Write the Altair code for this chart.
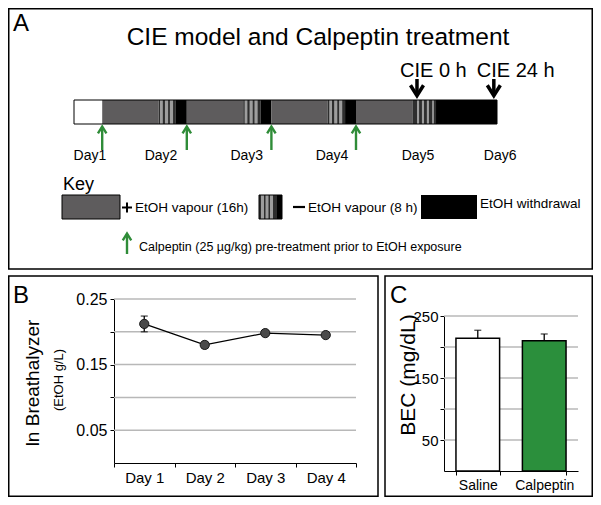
import altair as alt
import pandas as pd

# ---------------- data ----------------
# Panel A timeline (hours from start of Day 1)
seg_start = [0, 8, 24, 28.9, 32, 48, 52.9, 56, 72, 76.9, 80, 96, 102.7]
seg_end = [8, 24, 28.9, 32, 48, 52.9, 56, 72, 76.9, 80, 96, 102.7, 120]
seg_phase = ["pre", "on", "off", "dark", "on", "off", "dark", "on", "off", "dark", "on", "off", "dark"]
stripe_start = [24.4, 25.8, 27.2, 48.4, 49.8, 51.2, 72.4, 73.8, 75.2, 97.3, 98.7, 100.1, 101.6]
stripe_end = [25.2, 26.7, 28.1, 49.2, 50.7, 52.1, 73.2, 74.7, 76.1, 97.9, 99.3, 100.7, 102.1]
calp_hours = [8, 32, 56, 80]
cie_hours = [97.3, 119.1]
cie_labels = ["CIE 0 h", "CIE 24 h"]
day_hours = [4.5, 24.7, 49, 73.2, 97.6, 120.9]
day_labels = ["Day1", "Day2", "Day3", "Day4", "Day5", "Day6"]

# Panel B
breath_days = ["Day 1", "Day 2", "Day 3", "Day 4"]
breath_mean = [0.212, 0.180, 0.198, 0.195]
breath_err = [0.012, 0.005, 0.004, 0.002]
b_grid = [0.05, 0.10, 0.15, 0.20, 0.25]

# Panel C
bec_groups = ["Saline", "Calpeptin"]
bec_mean = [214, 210]
bec_err = [13, 11]
c_grid = [50, 100, 150, 200, 250]

# ---------------- layout helpers ----------------
FONT = "Liberation Sans"
GREEN = "#2f8c38"
GRAY = "#5e5c5d"
DARK = "#2e2e2e"
LIGHT = "#9d9d9d"
W, H = 585, 489


def V(p):
    return p - 8


one = pd.DataFrame({"k": [0]})


def label(text, x, y, size, align="left", angle=0, baseline="alphabetic"):
    return alt.Chart(one).mark_text(
        text=text, align=align, baseline=baseline, angle=angle,
        fontSize=size, font=FONT, color="black"
    ).encode(x=alt.value(V(x)), y=alt.value(V(y)))


def rect(x0, y0, x1, y1, fill, stroke="black", sw=0.0, fo=1.0):
    return alt.Chart(one).mark_rect(
        fill=fill, fillOpacity=fo, stroke=stroke, strokeWidth=sw
    ).encode(x=alt.value(V(x0)), x2=alt.value(V(x1)), y=alt.value(V(y0)), y2=alt.value(V(y1)))


def hline(x0, x1, y, color="black", sw=2.0):
    return alt.Chart(one).mark_rule(color=color, strokeWidth=sw).encode(
        x=alt.value(V(x0)), x2=alt.value(V(x1)), y=alt.value(V(y)))


def vline(x, y0, y1, color="black", sw=2.0):
    return alt.Chart(one).mark_rule(color=color, strokeWidth=sw).encode(
        x=alt.value(V(x)), y=alt.value(V(y0)), y2=alt.value(V(y1)))


UP = "M-1,0.8L0,-0.8L1,0.8"
DOWN = "M-1,-0.8L0,0.8L1,-0.8"

# ---------------- Panel A: timeline ----------------
tscale = alt.Scale(domain=[0, 120], range=[V(74), V(497)])
segs = pd.DataFrame({"t0": seg_start, "t1": seg_end, "phase": seg_phase})
stripes = pd.DataFrame({"t0": stripe_start, "t1": stripe_end})
outline = pd.DataFrame({"t0": [seg_start[0]], "t1": [seg_end[-1]]})
calp = pd.DataFrame({"t": calp_hours})
cie = pd.DataFrame({"t": cie_hours, "lab": cie_labels})
days = pd.DataFrame({"t": day_hours, "lab": day_labels})

tx0 = alt.X("t0:Q", scale=tscale, axis=None)
tx = alt.X("t:Q", scale=tscale, axis=None)

timeline = alt.layer(
    alt.Chart(segs).mark_rect().encode(
        x=tx0, x2="t1:Q", y=alt.value(V(100)), y2=alt.value(V(124)),
        color=alt.Color("phase:N", legend=None, scale=alt.Scale(
            domain=["pre", "on", "off", "dark"],
            range=["#ffffff", GRAY, DARK, "#000000"]))),
    alt.Chart(stripes).mark_rect(color=LIGHT).encode(
        x=tx0, x2="t1:Q", y=alt.value(V(100)), y2=alt.value(V(124))),
    alt.Chart(outline).mark_rect(fill="white", fillOpacity=0, stroke="black", strokeWidth=1).encode(
        x=tx0, x2="t1:Q", y=alt.value(V(100)), y2=alt.value(V(124))),
    alt.Chart(calp).mark_rule(color=GREEN, strokeWidth=2.4).encode(
        x=tx, y=alt.value(V(127)), y2=alt.value(V(150))),
    alt.Chart(calp).mark_point(shape=UP, filled=False, color=GREEN, strokeWidth=2.4,
                               size=72, opacity=1).encode(x=tx, y=alt.value(V(130))),
    alt.Chart(cie).mark_rule(color="black", strokeWidth=3.5).encode(
        x=tx, y=alt.value(V(79)), y2=alt.value(V(94))),
    alt.Chart(cie).mark_point(shape=DOWN, filled=False, color="black", strokeWidth=3.5,
                              size=170, opacity=1).encode(x=tx, y=alt.value(V(90.5))),
    alt.Chart(cie).mark_text(align="left", dx=-17, fontSize=20, font=FONT, color="black").encode(
        x=tx, y=alt.value(V(71)), text="lab:N"),
    alt.Chart(days).mark_text(align="center", fontSize=14, font=FONT, color="black").encode(
        x=tx, y=alt.value(V(156)), text="lab:N"),
)

# key
key = alt.layer(
    label("Key", 63, 190, 18),
    rect(62, 195, 120, 219, GRAY, sw=1),
    hline(122, 132, 207.5), vline(127, 202.5, 212.5),
    label("EtOH vapour (16h)", 135, 212, 13.5),
    rect(259, 195, 282, 219, DARK),
    rect(261, 195, 264, 219, LIGHT), rect(265.5, 195, 268.5, 219, LIGHT),
    rect(270, 195, 273, 219, LIGHT), rect(277, 195, 282, 219, "#000000"),
    rect(259, 195, 282, 219, "white", sw=1, fo=0),
    hline(293, 305, 207, sw=2.2),
    label("EtOH vapour (8 h)", 308, 212, 13.5),
    rect(421, 195, 477, 219, "#000000"),
    label("EtOH withdrawal", 480, 208, 13.5),
    vline(127, 234, 254, color=GREEN, sw=2.4),
    alt.Chart(one).mark_point(shape=UP, filled=False, color=GREEN, strokeWidth=2.4,
                              size=72, opacity=1).encode(x=alt.value(V(127)), y=alt.value(V(237))),
    label("Calpeptin (25 \u00b5g/kg) pre-treatment prior to EtOH exposure", 139, 251, 12.5),
)

# ---------------- Panel B ----------------
bdf = pd.DataFrame({
    "day": breath_days, "mean": breath_mean,
    "lo": [m - e for m, e in zip(breath_mean, breath_err)],
    "hi": [m + e for m, e in zip(breath_mean, breath_err)],
})
axis_common = dict(title=None, labelFont=FONT, labelColor="black", domainColor="black",
                   tickColor="black", grid=False, domainWidth=1, tickWidth=1)
b_xs = alt.Scale(type="band", domain=breath_days, range=[V(114), V(356)], paddingInner=0, paddingOuter=0)
b_ys = alt.Scale(domain=[0, 0.25], range=[V(463), V(299)], nice=False, zero=False)
b_xa = alt.Axis(orient="bottom", offset=V(463) - H, tickBand="extent", labelAngle=0,
                labelFontSize=15, tickSize=4, labelPadding=3, **axis_common)
b_ya = alt.Axis(orient="left", offset=-V(114), values=b_grid, format=".2f",
                labelExpr="round(datum.value*100) % 10 == 5 ? datum.label : ''",
                labelFontSize=16, tickSize=4, labelPadding=3, **axis_common)
bx = alt.X("day:N", scale=b_xs, axis=b_xa, sort=breath_days)

panelB = alt.layer(
    alt.Chart(pd.DataFrame({"g": b_grid})).mark_rule(color="#b8b8b8", strokeWidth=1.5).encode(
        y=alt.Y("g:Q", scale=b_ys, axis=b_ya), x=alt.value(V(114)), x2=alt.value(V(356))),
    alt.Chart(bdf).mark_line(color="black", strokeWidth=1.3).encode(
        x=bx, y=alt.Y("mean:Q", scale=b_ys, axis=b_ya)),
    alt.Chart(bdf).mark_rule(color="black", strokeWidth=1.3).encode(
        x=bx, y=alt.Y("lo:Q", scale=b_ys, axis=b_ya), y2="hi:Q"),
    alt.Chart(bdf).mark_tick(color="black", size=7, thickness=1.3).encode(
        x=bx, y=alt.Y("lo:Q", scale=b_ys, axis=b_ya)),
    alt.Chart(bdf).mark_tick(color="black", size=7, thickness=1.3).encode(
        x=bx, y=alt.Y("hi:Q", scale=b_ys, axis=b_ya)),
    alt.Chart(bdf).mark_circle(size=85, color="#4a4a4a", opacity=1, stroke="#1a1a1a", strokeWidth=1).encode(
        x=bx, y=alt.Y("mean:Q", scale=b_ys, axis=b_ya)),
)

# ---------------- Panel C ----------------
cdf = pd.DataFrame({
    "group": bec_groups, "mean": bec_mean,
    "hi": [m + e for m, e in zip(bec_mean, bec_err)],
})
c_xs = alt.Scale(type="band", domain=bec_groups, range=[V(444), V(578)], paddingInner=0.343, paddingOuter=0.18)
c_ys = alt.Scale(domain=[0, 250], range=[V(471), V(316)], nice=False)
c_xa = alt.Axis(orient="bottom", offset=V(471) - H, tickBand="extent", labelAngle=0,
                labelFontSize=14, tickSize=4, labelPadding=3, **axis_common)
c_ya = alt.Axis(orient="left", offset=-V(444), values=c_grid, format="d",
                labelExpr="datum.value % 100 == 50 ? datum.label : ''",
                labelFontSize=15, tickSize=4, labelPadding=2, **axis_common)
cx = alt.X("group:N", scale=c_xs, axis=c_xa, sort=bec_groups)

panelC = alt.layer(
    alt.Chart(pd.DataFrame({"g": c_grid})).mark_rule(color="#b8b8b8", strokeWidth=1.5).encode(
        y=alt.Y("g:Q", scale=c_ys, axis=c_ya), x=alt.value(V(444)), x2=alt.value(V(578))),
    alt.Chart(cdf).mark_bar(stroke="black", strokeWidth=1.5).encode(
        x=cx, y=alt.Y("mean:Q", scale=c_ys, axis=c_ya),
        color=alt.Color("group:N", legend=None,
                        scale=alt.Scale(domain=bec_groups, range=["#ffffff", "#2b8f3c"]))),
    alt.Chart(cdf).mark_rule(color="black", strokeWidth=1.3).encode(
        x=cx, y=alt.Y("mean:Q", scale=c_ys, axis=c_ya), y2="hi:Q"),
    alt.Chart(cdf).mark_tick(color="black", size=7, thickness=1.3).encode(
        x=cx, y=alt.Y("hi:Q", scale=c_ys, axis=c_ya)),
)

# ---------------- frames & texts ----------------
frames = alt.layer(
    rect(8.75, 8.75, 592.25, 269, "white", sw=1.5, fo=0),
    rect(8.75, 276, 378, 496.25, "white", sw=1.5, fo=0),
    rect(385, 276, 592.25, 496.25, "white", sw=1.5, fo=0),
)

texts = alt.layer(
    label("A", 13, 31, 24),
    label("CIE model and Calpeptin treatment", 318, 45, 24.5, align="center"),
    label("B", 13, 303, 24),
    label("ln Breathalyzer", 39, 383, 19, align="center", angle=270),
    label("(EtOH g/L)", 63, 380, 13, align="center", angle=270),
    label("C", 390, 303, 24),
    label("BEC (mg/dL)", 415, 375, 21, align="center", angle=270),
)

chart = alt.layer(frames, texts, timeline, key, panelB, panelC).resolve_scale(
    x="independent", y="independent", color="independent"
).properties(
    width=W, height=H, padding=0, background="white",
    autosize=alt.AutoSizeParams(type="none"),
).configure_view(strokeWidth=0)

chart.save("out.html", embed_options={"renderer": "svg", "actions": False})
